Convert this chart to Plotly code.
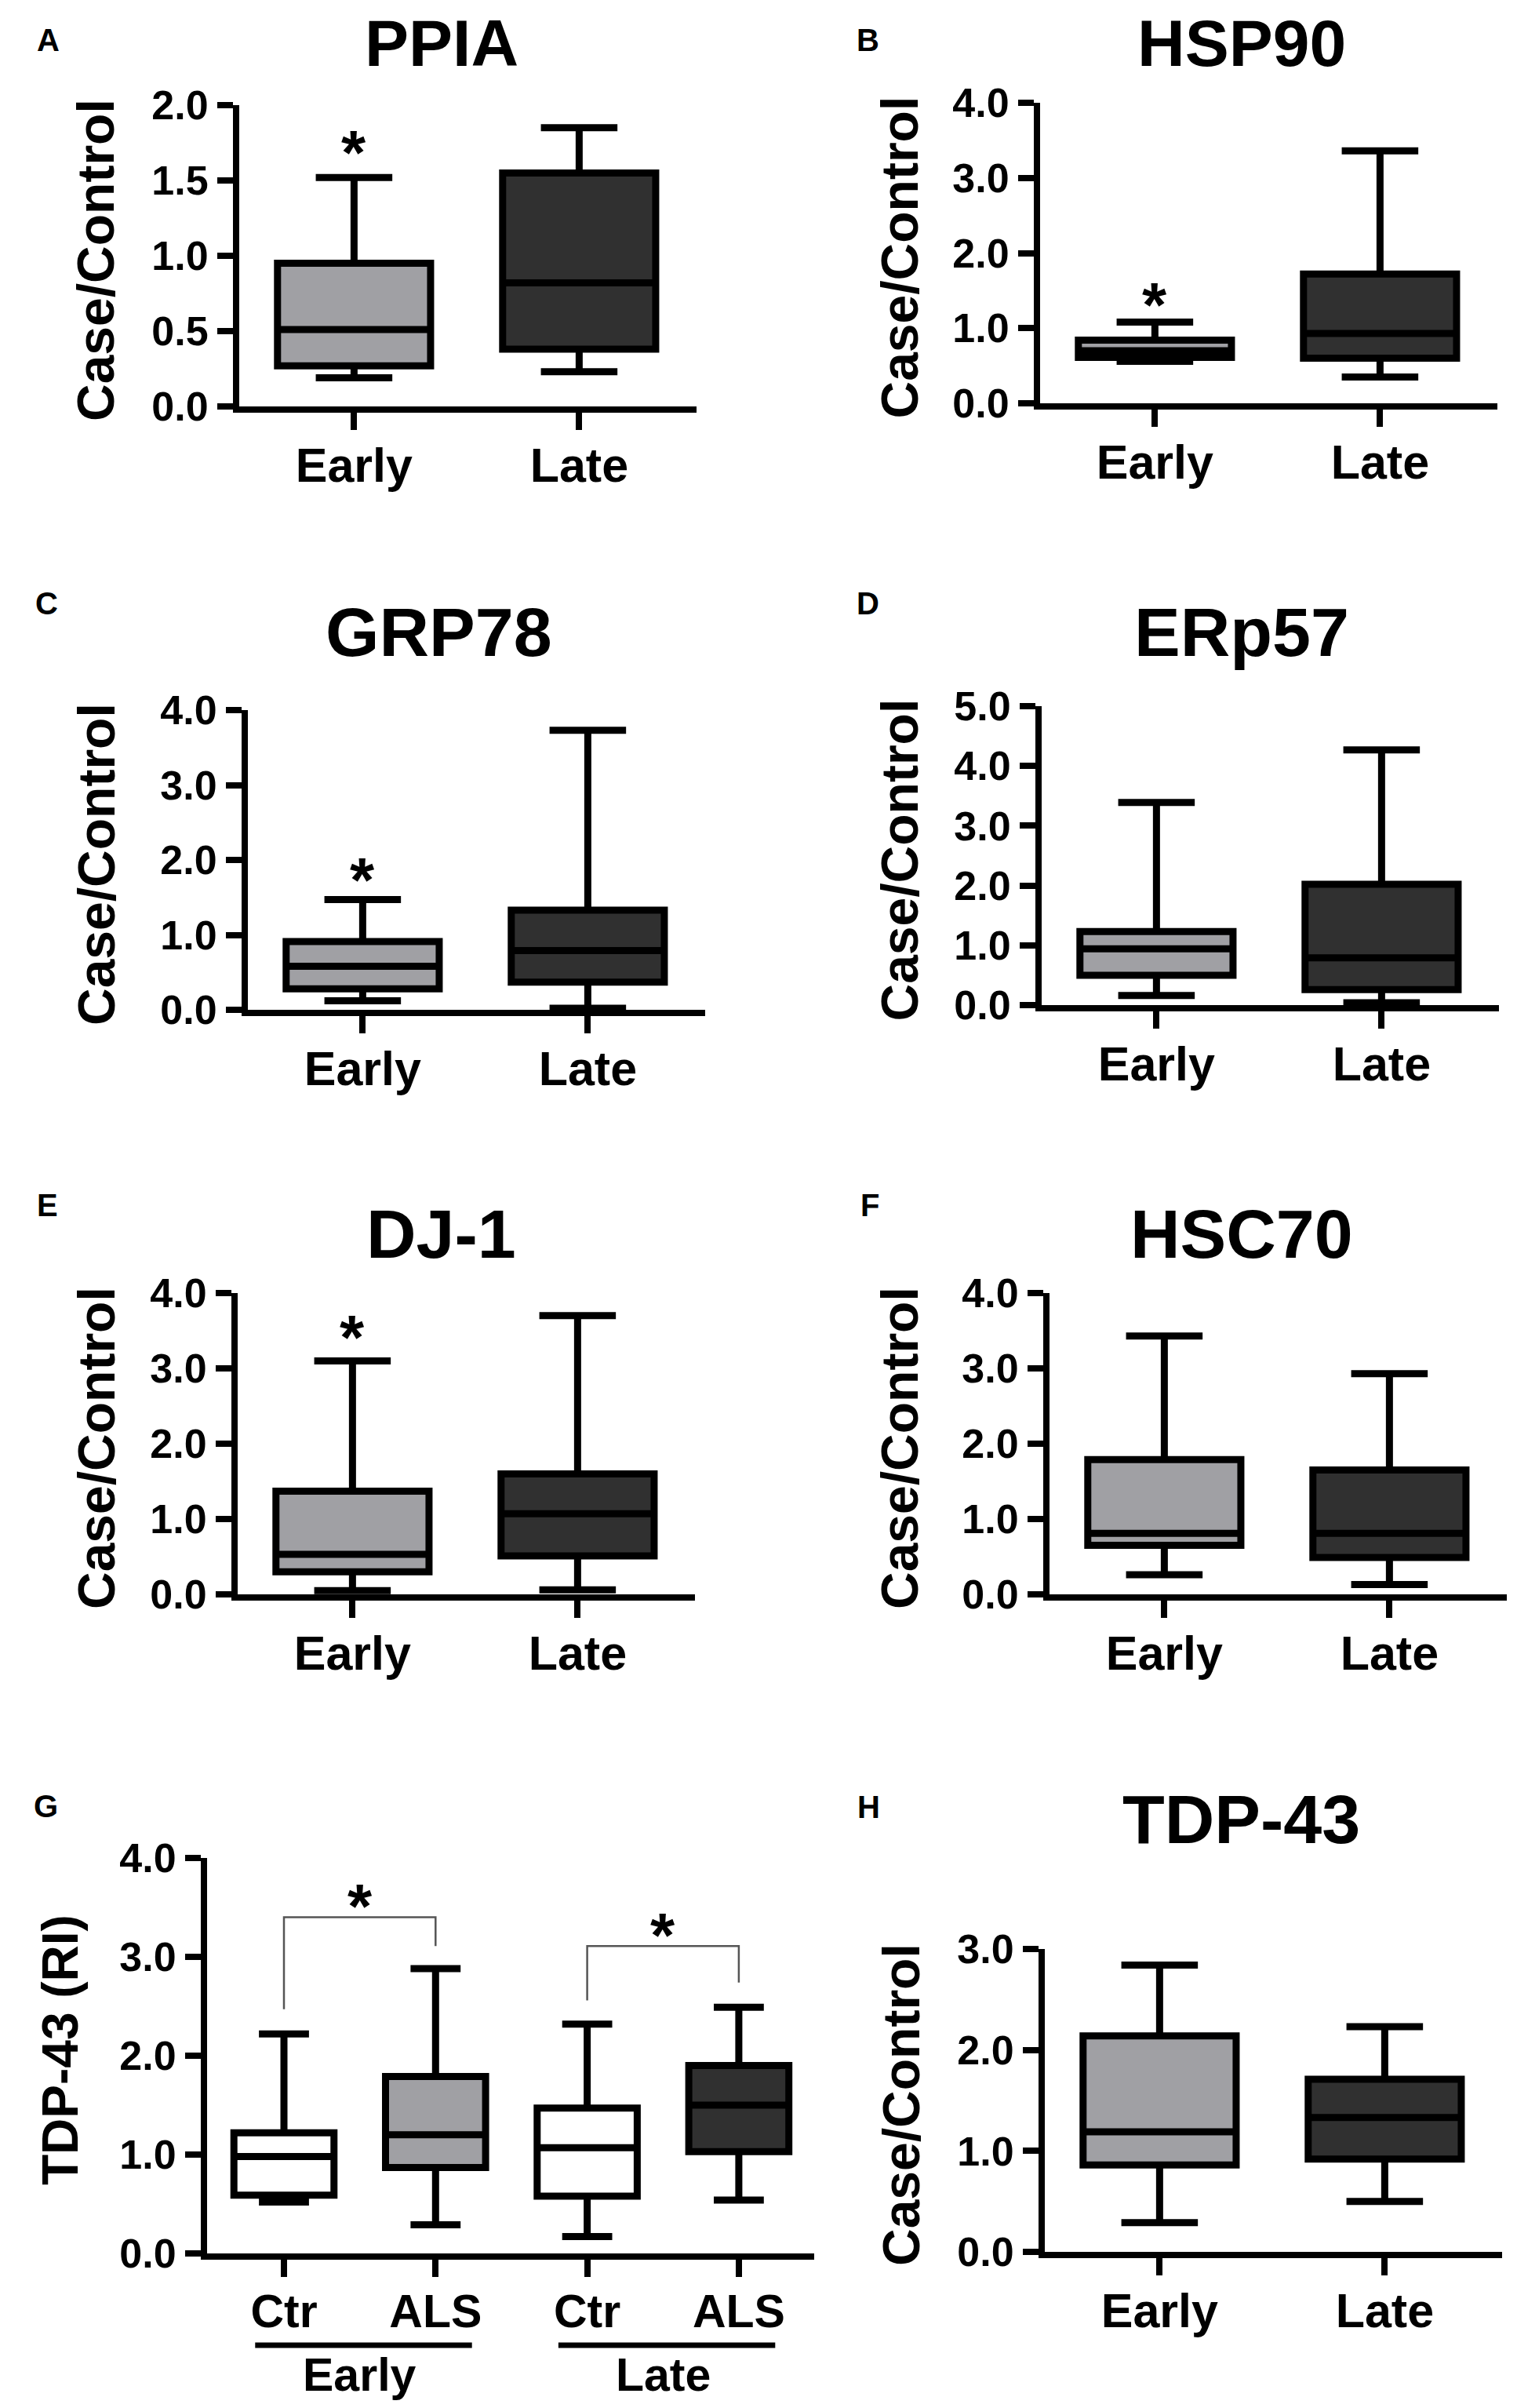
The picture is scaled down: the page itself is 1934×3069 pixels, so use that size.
import plotly.graph_objects as go

# page size; the written html page keeps the default 8 px body margin
W, H = 1934, 3069
OFF = 8
FW, FH = W - 2 * OFF, H - 2 * OFF
FONT = "Liberation Sans, Arial, Helvetica, sans-serif"

# ---------------- data ----------------
titles = ["PPIA", "HSP90", "GRP78", "ERp57", "DJ-1", "HSC70", "TDP-43"]
letters = ["A", "B", "C", "D", "E", "F", "H"]
groups = ["Early", "Late"]
y_max = [2.0, 4.0, 4.0, 5.0, 4.0, 4.0, 3.0]
y_step = [0.5, 1.0, 1.0, 1.0, 1.0, 1.0, 1.0]

early_low = [0.19, 0.56, 0.12, 0.16, 0.05, 0.26, 0.29]
early_q1 = [0.27, 0.61, 0.28, 0.50, 0.30, 0.65, 0.86]
early_med = [0.51, 0.70, 0.58, 0.94, 0.53, 0.81, 1.19]
early_q3 = [0.95, 0.84, 0.91, 1.23, 1.37, 1.79, 2.14]
early_high = [1.52, 1.08, 1.47, 3.39, 3.10, 3.43, 2.84]
early_star = [1.76, 1.46, 1.88, None, 3.56, None, None]

late_low = [0.23, 0.35, 0.02, 0.04, 0.06, 0.13, 0.50]
late_q1 = [0.38, 0.60, 0.37, 0.26, 0.51, 0.49, 0.92]
late_med = [0.82, 0.93, 0.79, 0.79, 1.07, 0.81, 1.33]
late_q3 = [1.55, 1.72, 1.33, 2.02, 1.60, 1.65, 1.71]
late_high = [1.85, 3.36, 3.73, 4.27, 3.70, 2.93, 2.23]

# panel G: TDP-43 (RI)
g_labels = ["Ctr", "ALS", "Ctr", "ALS"]
g_stage = ["Early", "Late"]
g_low = [0.52, 0.29, 0.17, 0.54]
g_q1 = [0.59, 0.87, 0.58, 1.03]
g_med = [0.98, 1.20, 1.07, 1.50]
g_q3 = [1.22, 1.79, 1.47, 1.90]
g_high = [2.22, 2.88, 2.32, 2.49]
g_ymax = 4.0
g_bracket_top = [3.40, 3.11]
g_bracket_left = [2.47, 2.56]
g_bracket_right = [3.11, 2.74]
g_star = [3.62, 3.33]

# ---------------- style ----------------
EARLY_FILL = "#a0a0a4"
LATE_FILL = "#303030"
CTR_FILL = "#ffffff"
LW = 9
AXW = 8

# geometry (page pixels):
# axis_x, top, bottom, title_x, title_y, title_size, letter_x, letter_y, ytitle_x
geom = [
    (305, 134, 518, 563, 55, 84, 61, 51, 122),
    (1326, 131, 514, 1583, 55, 84, 1106, 51, 1147),
    (316, 905, 1287, 559, 806, 88, 59, 769, 123),
    (1328, 900, 1281, 1583, 806, 88, 1106, 769, 1147),
    (303, 1648, 2032, 562, 1572, 88, 60, 1536, 123),
    (1338, 1648, 2032, 1583, 1572, 88, 1109, 1536, 1147),
    (1332, 2484, 2870, 1582, 2318, 88, 1107, 2303, 1149),
]
axis_ids = [1, 2, 3, 4, 5, 6, 8]
SPACING = 287
XR = [-0.51, 1.52]


def px(x):
    return (x - OFF) / FW


def py(y):
    return 1 - (y - OFF) / FH


def font(size):
    return dict(family=FONT, size=size, color="black", weight="bold")


fig = go.Figure()
layout = dict(
    width=FW, height=FH, margin=dict(l=0, r=0, t=0, b=0, pad=0, autoexpand=False),
    paper_bgcolor="white", plot_bgcolor="white", showlegend=False,
    boxmode="overlay",
)
annotations = []
shapes = []


def axis_style(n, dom_x, dom_y, xr, tickvals_x, ticktext_x, dtick, ymax, xfont):
    xa = dict(
        domain=dom_x, range=xr, anchor=f"y{n}", showgrid=False, zeroline=False,
        showline=True, linewidth=AXW, linecolor="black", ticks="outside",
        ticklen=22, tickwidth=AXW, tickcolor="black", tickvals=tickvals_x,
        ticktext=ticktext_x, tickfont=font(xfont), ticklabelstandoff=-7,
        fixedrange=True, automargin=False,
    )
    ya = dict(
        domain=dom_y, range=[0, ymax], anchor=f"x{n}", showgrid=False, zeroline=False,
        showline=True, linewidth=AXW, linecolor="black", ticks="outside",
        ticklen=20, tickwidth=AXW, tickcolor="black", tick0=0, dtick=dtick,
        tickformat=".1f", tickfont=font(52), ticklabelstandoff=1, fixedrange=True,
        automargin=False,
    )
    key = "" if n == 1 else str(n)
    layout["xaxis" + key] = xa
    layout["yaxis" + key] = ya


for i, t in enumerate(titles):
    n = axis_ids[i]
    ax_x, top, bot, tx, ty, tsize, lx, ly, ytx = geom[i]
    right = ax_x + (XR[1] - XR[0]) * SPACING
    axis_style(n, [px(ax_x), px(right)], [py(bot), py(top)], XR,
               [0, 1], groups, y_step[i], y_max[i], 61)
    stats = [
        (early_low[i], early_q1[i], early_med[i], early_q3[i], early_high[i], EARLY_FILL),
        (late_low[i], late_q1[i], late_med[i], late_q3[i], late_high[i], LATE_FILL),
    ]
    for j, (lo, q1, md, q3, hi, fc) in enumerate(stats):
        fig.add_trace(go.Box(
            x=[j], q1=[q1], median=[md], q3=[q3], lowerfence=[lo], upperfence=[hi],
            fillcolor=fc, line=dict(color="black", width=LW), width=0.68,
            whiskerwidth=0.5, boxpoints=False, xaxis=f"x{n}", yaxis=f"y{n}",
            hoverinfo="skip",
        ))
    if early_star[i] is not None:
        annotations.append(dict(
            x=0, y=early_star[i], xref=f"x{n}", yref=f"y{n}", text="*",
            showarrow=False, font=font(80), xanchor="center", yanchor="middle",
            yshift=-14,
        ))
    annotations.append(dict(x=px(tx), y=py(ty), xref="paper", yref="paper", text=t,
                            showarrow=False, font=font(tsize), xanchor="center",
                            yanchor="middle"))
    annotations.append(dict(x=px(lx), y=py(ly), xref="paper", yref="paper",
                            text=letters[i], showarrow=False, font=font(40),
                            xanchor="center", yanchor="middle"))
    annotations.append(dict(x=px(ytx), y=py((top + bot) / 2 + 6), xref="paper",
                            yref="paper", text="Case/Control", textangle=-90,
                            showarrow=False, font=font(66), xanchor="center",
                            yanchor="middle"))

# ---------------- panel G ----------------
n = 7
g_axis_x, g_top, g_bot = 264, 2368, 2872
g_spacing = 193.3
g_xr = [-0.507, 3.497]
g_right = g_axis_x + (g_xr[1] - g_xr[0]) * g_spacing
axis_style(n, [px(g_axis_x), px(g_right)], [py(g_bot), py(g_top)], g_xr,
           [0, 1, 2, 3], g_labels, 1.0, g_ymax, 59)
g_fills = [CTR_FILL, EARLY_FILL, CTR_FILL, LATE_FILL]
for j in range(4):
    fig.add_trace(go.Box(
        x=[j], q1=[g_q1[j]], median=[g_med[j]], q3=[g_q3[j]],
        lowerfence=[g_low[j]], upperfence=[g_high[j]], fillcolor=g_fills[j],
        line=dict(color="black", width=LW), width=0.66, whiskerwidth=0.5,
        boxpoints=False, xaxis="x7", yaxis="y7", hoverinfo="skip",
    ))
for k in range(2):
    a, b = 2 * k, 2 * k + 1
    path = (f"M {a},{g_bracket_left[k]} L {a},{g_bracket_top[k]} "
            f"L {b},{g_bracket_top[k]} L {b},{g_bracket_right[k]}")
    shapes.append(dict(type="path", path=path, xref="x7", yref="y7",
                       line=dict(color="#555555", width=2.5)))
    annotations.append(dict(x=(a + b) / 2, y=g_star[k], xref="x7", yref="y7", text="*",
                            showarrow=False, font=font(80), xanchor="center",
                            yanchor="middle", yshift=-14))
    shapes.append(dict(type="line", xref="x7", yref="paper",
                       x0=a - 0.19, x1=b + 0.24, y0=py(2989), y1=py(2989),
                       line=dict(color="black", width=7)))
    annotations.append(dict(x=(a + b) / 2, y=py(3027), xref="x7", yref="paper",
                            text=g_stage[k], showarrow=False, font=font(59),
                            xanchor="center", yanchor="middle"))
annotations.append(dict(x=px(58), y=py(2302), xref="paper", yref="paper", text="G",
                        showarrow=False, font=font(40), xanchor="center",
                        yanchor="middle"))
annotations.append(dict(x=px(77), y=py(2613), xref="paper",
                        yref="paper", text="TDP-43 (RI)", textangle=-90,
                        showarrow=False, font=font(64), xanchor="center",
                        yanchor="middle"))

layout["annotations"] = annotations
layout["shapes"] = shapes
fig.update_layout(**layout)
fig.write_html("out.html", config={"displayModeBar": False})
